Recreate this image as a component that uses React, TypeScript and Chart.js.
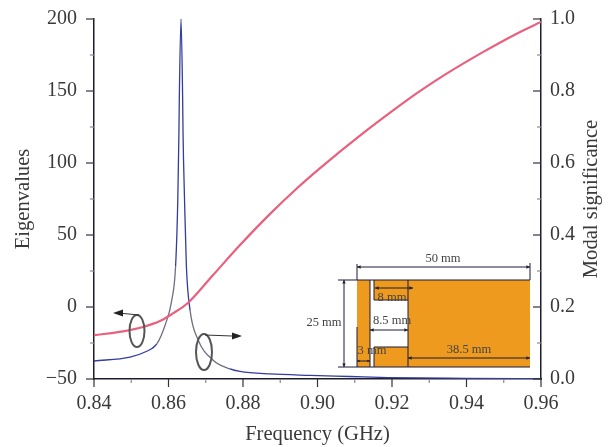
import React, { useEffect, useRef } from "react";
import { Chart, registerables } from "chart.js";

Chart.register(...registerables);

const eigenFreq = [0.84, 0.8478, 0.8532, 0.8577, 0.8612, 0.8652, 0.8719, 0.8792, 0.8872, 0.8945, 0.9007, 0.9114, 0.9203, 0.9267, 0.9337, 0.9444, 0.9536, 0.96];
const eigenValues = [-19.6, -16.9, -13.9, -9.8, -4.4, 2.8, 22, 43, 64.5, 82.5, 96.5, 119, 136.5, 148.5, 160.5, 177, 190, 198];
const modalFreq = [0.84, 0.8497, 0.8537, 0.8569, 0.8591, 0.8609, 0.8619, 0.8625, 0.8628, 0.8629, 0.86336, 0.8638, 0.8639, 0.8643, 0.8648, 0.8658, 0.8679, 0.8719, 0.8765, 0.8792, 0.8872, 0.898, 0.9087, 0.919, 0.94, 0.96];
const modalValues = [0.05, 0.061, 0.075, 0.098, 0.15, 0.22, 0.313, 0.5, 0.685, 0.777, 1.0, 0.777, 0.685, 0.5, 0.313, 0.19, 0.11, 0.053, 0.028, 0.021, 0.014, 0.01, 0.007, 0.004, 0.002, 0.001];
const eigenTicks = [-50, 0, 50, 100, 150, 200];
const modalTicks = [0, 0.2, 0.4, 0.6, 0.8, 1];
const freqTicks = [0.84, 0.86, 0.88, 0.9, 0.92, 0.94, 0.96];

const SERIF = '"Liberation Serif", serif';
const INK = "#3a3a3a";

const inset = {
  id: "inset",
  afterDraw(chart: any) {
    const c = chart.ctx;
    const { x, y, y1 } = chart.scales;
    c.save();
    const tick = (s: any, v: number, minor: boolean, side: string) => {
      const len = minor ? 4 : 8;
      const p = s.getPixelForValue(v);
      c.strokeStyle = minor ? "#8a8a8a" : "#333";
      c.lineWidth = 1.2;
      c.beginPath();
      if (side === "b") { c.moveTo(p, s.top); c.lineTo(p, s.top + len); }
      if (side === "l") { c.moveTo(s.right, p); c.lineTo(s.right - len, p); }
      if (side === "r") { c.moveTo(s.left, p); c.lineTo(s.left - len, p); }
      c.stroke();
    };
    freqTicks.forEach((v, i) => {
      tick(x, v, false, "b");
      if (i < freqTicks.length - 1) tick(x, v + 0.01, true, "b");
    });
    eigenTicks.forEach((v, i) => {
      tick(y, v, false, "l");
      if (i < eigenTicks.length - 1) tick(y, v + 25, true, "l");
    });
    modalTicks.forEach((v, i) => {
      tick(y1, v, false, "r");
      if (i < modalTicks.length - 1) tick(y1, v + 0.1, true, "r");
    });

    // right axis title reads bottom to top
    c.save();
    c.translate(592, 199);
    c.rotate(-Math.PI / 2);
    c.font = `20.6px ${SERIF}`;
    c.fillStyle = INK;
    c.textAlign = "center";
    c.textBaseline = "middle";
    c.fillText("Modal significance", 0, 0);
    c.restore();

    // antenna diagram
    c.fillStyle = "#ee9a1e";
    c.fillRect(357, 280, 173, 87);
    c.fillStyle = "#fff";
    c.fillRect(370, 280, 4, 87);
    c.fillRect(370, 300, 38, 47);
    c.strokeStyle = "#1a1a3a";
    c.lineWidth = 1;
    const line = (a: number, b: number, d: number, e: number) => {
      c.beginPath(); c.moveTo(a, b); c.lineTo(d, e); c.stroke();
    };
    line(338, 280, 530, 280);
    line(338, 367, 530, 367);
    line(370, 280, 370, 367);
    line(374, 280, 374, 300);
    line(374, 347, 374, 367);
    line(374, 300, 408, 300);
    line(374, 347, 408, 347);
    line(408, 280, 408, 367);
    line(357, 264, 357, 280);
    line(357, 327, 357, 367);
    line(530, 263, 530, 280);
    c.fillStyle = "#222";
    const arrow = (a: number, b: number, d: number, e: number, size = 4) => {
      line(a, b, d, e);
      const t = Math.atan2(e - b, d - a);
      [[a, b, t + Math.PI], [d, e, t]].forEach(([px, py, r]) => {
        c.beginPath();
        c.moveTo(px, py);
        c.lineTo(px - size * Math.cos(r - 0.45), py - size * Math.sin(r - 0.45));
        c.lineTo(px - size * Math.cos(r + 0.45), py - size * Math.sin(r + 0.45));
        c.closePath();
        c.fill();
      });
    };
    arrow(357, 267, 530, 267);
    arrow(344, 280, 344, 367);
    arrow(375, 288, 413, 288);
    arrow(370, 330, 408, 330);
    arrow(408, 358, 530, 358);
    arrow(357, 361, 370, 361, 3);
    c.font = `12.5px ${SERIF}`;
    c.fillStyle = "#444";
    c.textBaseline = "middle";
    c.textAlign = "center";
    c.fillText("50 mm", 443, 259);
    c.fillText("25 mm", 324, 323);
    c.fillText("8 mm", 392, 298);
    c.fillText("8.5 mm", 392, 321);
    c.fillText("38.5 mm", 469, 350);
    c.fillText("3 mm", 372, 351);

    // series markers with their loop and arrow
    c.strokeStyle = "#555";
    c.lineWidth = 2;
    c.beginPath(); c.ellipse(137, 331, 7.5, 16, 0, 0, Math.PI * 2); c.stroke();
    c.beginPath(); c.ellipse(204, 352, 8, 18, 0, 0, Math.PI * 2); c.stroke();
    c.strokeStyle = "#333";
    c.lineWidth = 1;
    c.beginPath(); c.moveTo(139, 315); c.lineTo(118, 313); c.stroke();
    c.beginPath(); c.moveTo(205, 335); c.lineTo(232, 336); c.stroke();
    c.fillStyle = "#222";
    c.beginPath(); c.moveTo(113, 313); c.lineTo(123, 309.5); c.lineTo(123, 316.5); c.closePath(); c.fill();
    c.beginPath(); c.moveTo(242, 336); c.lineTo(232, 332.5); c.lineTo(232, 339.5); c.closePath(); c.fill();
    c.restore();
  },
};

export default function App() {
  const ref = useRef<HTMLCanvasElement>(null);
  useEffect(() => {
    document.body.style.margin = "0";
    const font = { family: SERIF, size: 20 };
    const titleFont = { family: SERIF, size: 20.6 };
    const grayBand = (f: number) => (f >= 0.8555 && f < 0.8615) || (f >= 0.8655 && f < 0.874);
    const chart = new Chart(ref.current!, {
      type: "line",
      data: {
        datasets: [
          {
            label: "Eigenvalues",
            data: eigenFreq.map((f, i) => ({ x: f, y: eigenValues[i] })),
            yAxisID: "y",
            borderColor: "#e9607f",
            borderWidth: 2.2,
            pointRadius: 0,
            cubicInterpolationMode: "monotone",
          },
          {
            label: "Modal significance",
            data: modalFreq.map((f, i) => ({ x: f, y: modalValues[i] })),
            yAxisID: "y1",
            borderColor: "#343c9f",
            borderWidth: 1.3,
            pointRadius: 0,
            cubicInterpolationMode: "monotone",
            segment: {
              borderColor: (ctx: any) => (grayBand(ctx.p0.parsed.x) ? "#6b6f80" : "#343c9f"),
            },
          },
        ],
      },
      options: {
        animation: false,
        responsive: false,
        layout: { padding: { top: 19, left: 0, right: 0, bottom: 0 } },
        plugins: { legend: { display: false }, tooltip: { enabled: false } },
        scales: {
          x: {
            type: "linear",
            min: 0.84,
            max: 0.96,
            afterBuildTicks: (s: any) => { s.ticks = freqTicks.map((value) => ({ value })); },
            afterFit: (s: any) => { s.height = 68; s.paddingLeft = 0; s.paddingRight = 0; },
            grid: { display: true, drawOnChartArea: false, drawTicks: false },
            border: { color: "#1c1c2c", width: 1.5 },
            ticks: { font, color: INK, padding: 13, maxRotation: 0, callback: (v: any) => Number(v).toFixed(2) },
            title: { display: true, text: "Frequency (GHz)", font: titleFont, color: INK, padding: { top: 5, bottom: 0 } },
          },
          y: {
            type: "linear",
            position: "left",
            min: -50,
            max: 200,
            afterBuildTicks: (s: any) => { s.ticks = eigenTicks.map((value) => ({ value })); },
            afterFit: (s: any) => { s.width = 94; s.paddingTop = 0; s.paddingBottom = 0; },
            grid: { display: true, drawOnChartArea: false, drawTicks: false },
            border: { color: "#1c1c2c", width: 1.5 },
            ticks: { font, color: INK, padding: 17, callback: (v: any) => String(v).replace("-", "\u2212") },
            title: { display: true, text: "Eigenvalues", font: titleFont, color: INK, padding: { top: 11, bottom: 4 } },
          },
          y1: {
            type: "linear",
            position: "right",
            min: 0,
            max: 1,
            afterBuildTicks: (s: any) => { s.ticks = modalTicks.map((value) => ({ value })); },
            afterFit: (s: any) => { s.width = 71; s.paddingTop = 0; s.paddingBottom = 0; },
            grid: { display: true, drawOnChartArea: false, drawTicks: false },
            border: { color: "#1c1c2c", width: 1.5 },
            ticks: { font, color: INK, padding: 9, callback: (v: any) => Number(v).toFixed(1) },
          },
        },
      },
      plugins: [inset],
    } as any);
    return () => chart.destroy();
  }, []);
  return <canvas ref={ref} width={612} height={447} style={{ display: "block", filter: "blur(0.45px)" }} />;
}
